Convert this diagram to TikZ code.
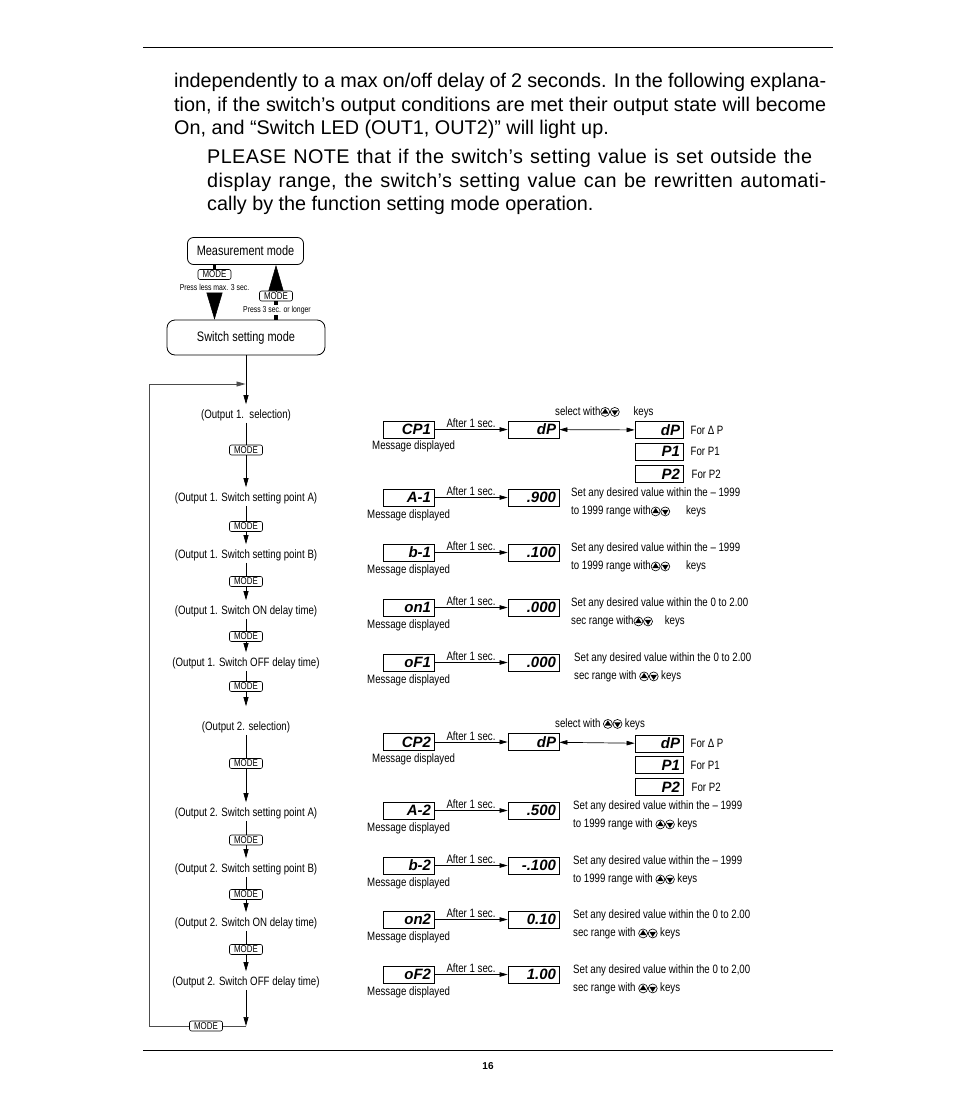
\documentclass[tikz,border=0pt]{standalone}
\usepackage{fontspec}
\setmainfont{Liberation Sans}
\newfontfamily\condfont[FakeStretch=0.8]{Liberation Sans}
\usetikzlibrary{arrows.meta,positioning}

\newcommand{\keyup}{\tikz[baseline=-3.2pt,x=1pt,y=1pt]{\draw[line width=0.6pt] (0,0) circle (4.5);\fill (-3.3,-1.6) -- (3.3,-1.6) -- (0,3.5) -- cycle;}}
\newcommand{\keydown}{\tikz[baseline=-3.2pt,x=1pt,y=1pt]{\draw[line width=0.6pt] (0,0) circle (4.5);\fill (-3.3,1.6) -- (3.3,1.6) -- (0,-3.5) -- cycle;}}

\tikzset{
  bodyline/.style={anchor=base west, inner sep=0pt, font=\fontsize{19.8}{23.5}\selectfont},
  modeframe/.style={draw, line width=0.8pt, font=\condfont\fontsize{13.7}{15}\selectfont},
  modekey/.style={draw, line width=0.6pt, rounded corners=2pt, fill=white, minimum width=33pt, minimum height=10pt, inner sep=0pt, font=\condfont\fontsize{9.9}{10}\selectfont},
  pressnote/.style={inner sep=1pt, font=\condfont\fontsize{8.6}{9}\selectfont},
  steplabel/.style={inner sep=2pt, font=\condfont\fontsize{12.1}{13}\selectfont},
  flow/.style={line width=0.7pt},
  flowarrow/.style={-{Triangle[length=9pt,width=5pt]}, shorten >=3pt},
  loopline/.style={line width=0.8pt, black!70},
  dispbox/.style={draw, line width=0.8pt, minimum height=17pt, text width=45pt, align=right, inner sep=3pt, font=\bfseries\itshape\fontsize{15}{15}\selectfont},
  optbox/.style={dispbox, text width=42pt},
  msgnote/.style={anchor=west, inner sep=1pt, font=\condfont\fontsize{12.1}{13}\selectfont},
  afternote/.style={above, inner sep=1.5pt, font=\condfont\fontsize{12.1}{13}\selectfont},
  setnote/.style={anchor=west, align=left, inner sep=1pt, font=\condfont\fontsize{12.1}{18}\selectfont},
  optnote/.style={inner sep=2pt, font=\condfont\fontsize{12.1}{13}\selectfont},
  rowarrow/.style={-{Triangle[length=8pt,width=4.5pt]}},
  rowdouble/.style={{Triangle[length=8pt,width=4.5pt]}-{Triangle[length=8pt,width=4.5pt]}},
}

\begin{document}
\begin{tikzpicture}[x=1pt, y=-1pt]
    \useasboundingbox (0,0) rectangle (954,1098);
    \fill[white] (0,0) rectangle (954,1098);

    % page rules and number
    \draw[line width=0.9pt] (143,47) -- (833,47);
    \draw[line width=0.9pt] (143,1050) -- (833,1050);
    \node[font=\bfseries\fontsize{10}{10}\selectfont] (pagenum) at (488,1066) {16};

    % text above the chart
    \node[bodyline] (txt1) at (174,87.5) {\makebox[652pt][s]{independently to a max on/off delay of 2 seconds. In the following explana-}};
    \node[bodyline] (txt2) at (174,111) {\makebox[652pt][s]{tion, if the switch’s output conditions are met their output state will become}};
    \node[bodyline] (txt3) at (174,134.5) {On, and “Switch LED (OUT1, OUT2)” will light up.};
    \node[bodyline] (txt4) at (207,163.5) {\addfontfeature{LetterSpace=2}\makebox[605pt][s]{PLEASE NOTE that if the switch’s setting value is set outside the}};
    \node[bodyline] (txt5) at (207,187) {\addfontfeature{LetterSpace=2}\makebox[619pt][s]{display range, the switch’s setting value can be rewritten automati-}};
    \node[bodyline] (txt6) at (207,210.5) {cally by the function setting mode operation.};

    % Measurement / Switch setting mode
    \node[modeframe, minimum width=116pt, minimum height=27pt, rounded corners=6pt] (meas) at (245.5,251) {Measurement mode};
    \node[modeframe, minimum width=158pt, minimum height=35pt, rounded corners=8pt] (swset) at (246,337.5) {Switch setting mode};

    \node[modekey] (kdown) at (214.5,274.5) {MODE};
    \node[pressnote] (pdown) at (214.5,287) {Press less max. 3 sec.};
    \node[modekey] (kup) at (276,296) {MODE};
    \node[pressnote] (pup) at (277,310) {Press 3 sec. or longer};

    \draw[line width=3.5pt] (meas.south -| kdown) -- (kdown.north);
    \draw[-{Triangle[length=27pt,width=16pt]}, line width=0.5pt, shorten <=2pt] (pdown.south -| kdown) -- (swset.north -| kdown);
    \draw[-{Triangle[length=26pt,width=15pt]}, line width=0.5pt] (kup.north) -- (meas.south -| kup);
    \draw[line width=3.5pt] (swset.north -| kup) -- (pup.south -| kup);
    \draw[line width=3.5pt] (pup.north -| kup) -- (kup.south);

    % Output 1 / Output 2 steps
    \node[steplabel] (o1sel) at (246,415) {(Output 1.\ \ selection)};
    \node[modekey] (k1) at (246,450) {MODE};
    \node[steplabel] (o1a) at (246,498) {(Output 1. Switch setting point A)};
    \node[modekey] (k2) at (246,526.5) {MODE};
    \node[steplabel] (o1b) at (246,555) {(Output 1. Switch setting point B)};
    \node[modekey] (k3) at (246,581.5) {MODE};
    \node[steplabel] (o1on) at (246,611) {(Output 1. Switch ON delay time)};
    \node[modekey] (k4) at (246,636.5) {MODE};
    \node[steplabel] (o1off) at (246,663) {(Output 1. Switch OFF delay time)};
    \node[modekey] (k5) at (246,686.5) {MODE};
    \node[steplabel] (o2sel) at (246,727) {(Output 2. selection)};
    \node[modekey] (k6) at (246,763.5) {MODE};
    \node[steplabel] (o2a) at (246,813) {(Output 2. Switch setting point A)};
    \node[modekey] (k7) at (246,840) {MODE};
    \node[steplabel] (o2b) at (246,869) {(Output 2. Switch setting point B)};
    \node[modekey] (k8) at (246,894.5) {MODE};
    \node[steplabel] (o2on) at (246,923) {(Output 2. Switch ON delay time)};
    \node[modekey] (k9) at (246,949.5) {MODE};
    \node[steplabel] (o2off) at (246,982) {(Output 2. Switch OFF delay time)};
    \node[modekey] (kback) at (206,1026) {MODE};
    \coordinate (loopend) at (246,1026);
    \coordinate (loopcorner) at (149,1026);
    \coordinate (loopjoin) at (246,384);

    \draw[flow, flowarrow] (swset) -- (o1sel);
    \draw[flow] (o1sel) -- (k1);  \draw[flow, flowarrow] (k1) -- (o1a);
    \draw[flow] (o1a) -- (k2);    \draw[flow, flowarrow] (k2) -- (o1b);
    \draw[flow] (o1b) -- (k3);    \draw[flow, flowarrow] (k3) -- (o1on);
    \draw[flow] (o1on) -- (k4);   \draw[flow, flowarrow] (k4) -- (o1off);
    \draw[flow] (o1off) -- (k5);  \draw[flow, flowarrow, shorten >=13pt] (k5) -- (o2sel);
    \draw[flow] (o2sel) -- (k6);  \draw[flow, flowarrow] (k6) -- (o2a);
    \draw[flow] (o2a) -- (k7);    \draw[flow, flowarrow] (k7) -- (o2b);
    \draw[flow] (o2b) -- (k8);    \draw[flow, flowarrow] (k8) -- (o2on);
    \draw[flow] (o2on) -- (k9);   \draw[flow, flowarrow] (k9) -- (o2off);
    \draw[flow, flowarrow, shorten >=0pt] (o2off) -- (loopend);

    % back to Output 1
    \draw[loopline] (loopend) -- (kback);
    \draw[loopline, flowarrow, shorten >=0.5pt] (kback) -- (loopcorner) |- (loopjoin);

    % CP1
    \node[dispbox] (cp1msg) at (408.5,429.5) {CP1};
    \node[msgnote] (cp1md) at (371,446) {Message displayed};
    \node[dispbox] (cp1val) at (533.5,429.5) {dP};
    \draw[flow, rowarrow] (cp1msg) -- node[afternote] {After 1 sec.} (cp1val);
    \node[setnote] (cp1keys) at (554,412) {select with\keyup\keydown\hspace{14pt}keys};
    \node[optbox] (cp1dp) at (659,430) {dP};
    \node[optbox, below=4pt of cp1dp] (cp1p1) {P1};
    \node[optbox, below=4.5pt of cp1p1] (cp1p2) {P2};
    \node[optnote, right=5pt of cp1dp] (cp1fdp) {For Δ P};
    \node[optnote, right=5pt of cp1p1] (cp1fp1) {For P1};
    \node[optnote, right=6pt of cp1p2] (cp1fp2) {For P2};
    \draw[flow, rowdouble] (cp1val) -- (cp1dp);

    % A-1
    \node[dispbox] (a1msg) at (408.5,497.5) {A-1};
    \node[msgnote] (a1md) at (366,515.5) {Message displayed};
    \node[dispbox] (a1val) at (533.5,497.5) {.900};
    \draw[flow, rowarrow] (a1msg) -- node[afternote] {After 1 sec.} (a1val);
    \node[setnote] (a1set) at (570,502.5) {Set any desired value within the – 1999\\to 1999 range with\keyup\keydown\hspace{16pt}keys};

    % b-1
    \node[dispbox] (b1msg) at (408.5,552.5) {b-1};
    \node[msgnote] (b1md) at (366,570.5) {Message displayed};
    \node[dispbox] (b1val) at (533.5,552.5) {.100};
    \draw[flow, rowarrow] (b1msg) -- node[afternote] {After 1 sec.} (b1val);
    \node[setnote] (b1set) at (570,557.5) {Set any desired value within the – 1999\\to 1999 range with\keyup\keydown\hspace{16pt}keys};

    % on1
    \node[dispbox] (on1msg) at (408.5,607.5) {on1};
    \node[msgnote] (on1md) at (366,625.5) {Message displayed};
    \node[dispbox] (on1val) at (533.5,607.5) {.000};
    \draw[flow, rowarrow] (on1msg) -- node[afternote] {After 1 sec.} (on1val);
    \node[setnote] (on1set) at (570,612.5) {Set any desired value within the 0 to 2.00\\sec range with\keyup\keydown\hspace{12pt}keys};

    % oF1
    \node[dispbox] (of1msg) at (408.5,662.5) {oF1};
    \node[msgnote] (of1md) at (366,680.5) {Message displayed};
    \node[dispbox] (of1val) at (533.5,662.5) {.000};
    \draw[flow, rowarrow] (of1msg) -- node[afternote] {After 1 sec.} (of1val);
    \node[setnote] (of1set) at (573,667.5) {Set any desired value within the 0 to 2.00\\sec range with \keyup\keydown\ keys};

    % CP2
    \node[dispbox] (cp2msg) at (408.5,742) {CP2};
    \node[msgnote] (cp2md) at (371,759) {Message displayed};
    \node[dispbox] (cp2val) at (533.5,742) {dP};
    \draw[flow, rowarrow] (cp2msg) -- node[afternote] {After 1 sec.} (cp2val);
    \node[setnote] (cp2keys) at (554,724) {select with \keyup\keydown\ keys};
    \node[optbox] (cp2dp) at (659,743.5) {dP};
    \node[optbox, below=4pt of cp2dp] (cp2p1) {P1};
    \node[optbox, below=4pt of cp2p1] (cp2p2) {P2};
    \node[optnote, right=5pt of cp2dp] (cp2fdp) {For Δ P};
    \node[optnote, right=5pt of cp2p1] (cp2fp1) {For P1};
    \node[optnote, right=6pt of cp2p2] (cp2fp2) {For P2};
    \draw[flow, rowdouble] (cp2val) -- (cp2dp);

    % A-2
    \node[dispbox] (a2msg) at (408.5,810.5) {A-2};
    \node[msgnote] (a2md) at (366,828.5) {Message displayed};
    \node[dispbox] (a2val) at (533.5,810.5) {.500};
    \draw[flow, rowarrow] (a2msg) -- node[afternote] {After 1 sec.} (a2val);
    \node[setnote] (a2set) at (572,815.5) {Set any desired value within the – 1999\\to 1999 range with \keyup\keydown\ keys};

    % b-2
    \node[dispbox] (b2msg) at (408.5,865.5) {b-2};
    \node[msgnote] (b2md) at (366,883.5) {Message displayed};
    \node[dispbox] (b2val) at (533.5,865.5) {-.100};
    \draw[flow, rowarrow] (b2msg) -- node[afternote] {After 1 sec.} (b2val);
    \node[setnote] (b2set) at (572,870.5) {Set any desired value within the – 1999\\to 1999 range with \keyup\keydown\ keys};

    % on2
    \node[dispbox] (on2msg) at (408.5,919.5) {on2};
    \node[msgnote] (on2md) at (366,937.5) {Message displayed};
    \node[dispbox] (on2val) at (533.5,919.5) {0.10};
    \draw[flow, rowarrow] (on2msg) -- node[afternote] {After 1 sec.} (on2val);
    \node[setnote] (on2set) at (572,924.5) {Set any desired value within the 0 to 2.00\\sec range with \keyup\keydown\ keys};

    % oF2
    \node[dispbox] (of2msg) at (408.5,974.5) {oF2};
    \node[msgnote] (of2md) at (366,992.5) {Message displayed};
    \node[dispbox] (of2val) at (533.5,974.5) {1.00};
    \draw[flow, rowarrow] (of2msg) -- node[afternote] {After 1 sec.} (of2val);
    \node[setnote] (of2set) at (572,979.5) {Set any desired value within the 0 to 2,00\\sec range with \keyup\keydown\ keys};
\end{tikzpicture}
\end{document}
